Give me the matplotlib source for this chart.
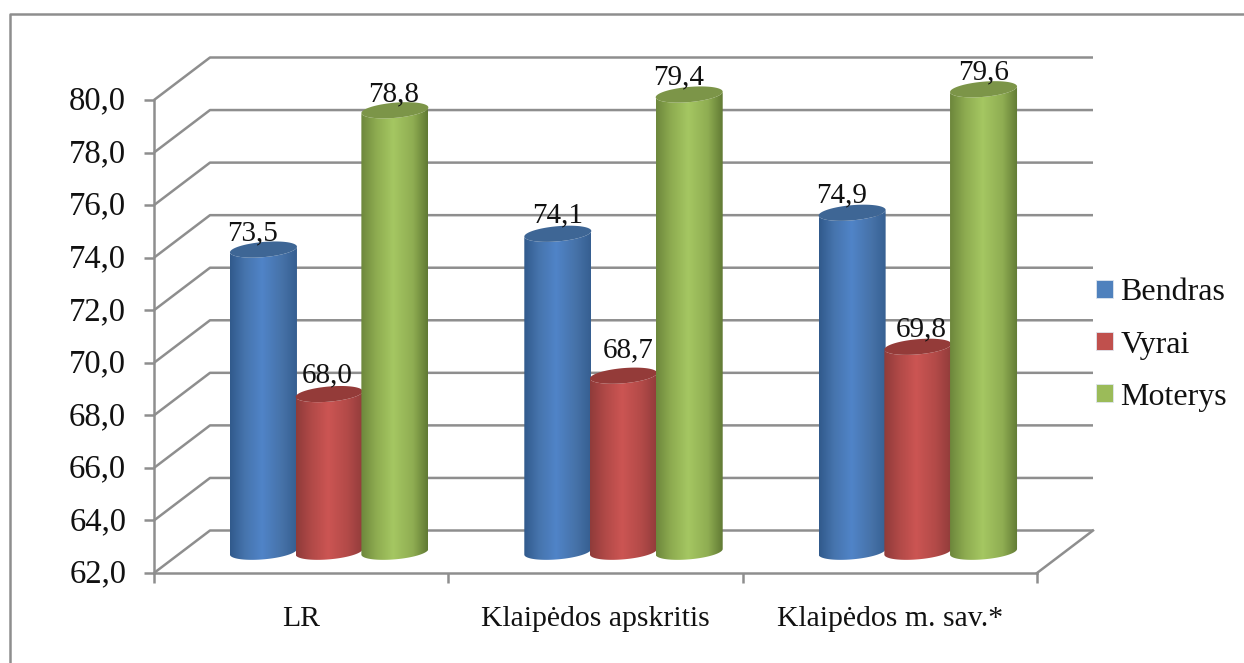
import numpy as np
import matplotlib
matplotlib.use("Agg")
import matplotlib.pyplot as plt
from matplotlib.colors import LinearSegmentedColormap
from matplotlib.lines import Line2D
from matplotlib.patches import Patch, PathPatch
from matplotlib.path import Path
from matplotlib.ticker import FuncFormatter
from matplotlib.transforms import ScaledTranslation

categories = ["LR", "Klaipėdos apskritis", "Klaipėdos m. sav.*"]
series_names = ["Bendras", "Vyrai", "Moterys"]
bendras = [73.5, 74.1, 74.9]
vyrai = [68.0, 68.7, 69.8]
moterys = [78.8, 79.4, 79.6]
y_ticks = [62, 64, 66, 68, 70, 72, 74, 76, 78, 80]

# label nudges in px, the original chart placed these by hand
label_nudge = [[-11, -2, -1], [0, 5, -11], [-11, 3, 0]]
label_lift = [[9, 12, 9], [11, 18, 10], [10, 10, 9.5]]

# side shading left to right, then cap and legend colour
shades = {
    "Bendras": ["#315a8c", "#4674ad", "#5084c8", "#4672a8", "#365f91", "#3e6695", "#4f81bd"],
    "Vyrai": ["#8f3b3a", "#b04947", "#cc5553", "#b24a48", "#923c3b", "#943b39", "#c0504d"],
    "Moterys": ["#6d873c", "#8dab50", "#a5c762", "#8fad52", "#617a34", "#7c9548", "#9bbb59"],
}

GREY = "#8e8e8e"
INK = "#111111"
FONT = "Liberation Serif"
FS_DATA = 21
FS_YTICK = 23.5
FS_CAT = 21.4
FS_LEGEND = 23

W, H = 1244, 663
fig = plt.figure(figsize=(W / 100, H / 100), dpi=100, facecolor="white")
ax = fig.add_axes([154 / W, (H - 573) / H, 883 / W, 473 / H])
ax.set_xlim(0, 3)
ax.set_ylim(62, 80)

px_x = 3 / 883
px_y = 18 / 473

# depth of the 3d box
DX = 56 * px_x
DY = 42.5 * px_y

for v in y_ticks:
    ax.plot([0, DX, 3 + DX], [v, v + DY, v + DY], color=GREY, lw=1.8,
            clip_on=False, zorder=1, solid_capstyle="butt")
ax.plot([3, 3 + DX], [62, 62 + DY], color=GREY, lw=1.8, clip_on=False, zorder=1)

bar_w = 67 * px_x
bar_step = 65.7 * px_x
cap_b = 7.6 * px_y
cap_s = 2.8 * px_y


def cap_points(cx, cy, t):
    return cx + bar_w / 2 * np.cos(t), cy + cap_b * np.sin(t) + cap_s * np.cos(t)


def cylinder(cx, value, name, z):
    cols = shades[name]
    base = 62 + DY / 2
    top = value + DY / 2
    stops = [0, 0.22, 0.48, 0.78, 1]
    cmap = LinearSegmentedColormap.from_list(name, list(zip(stops, cols[:5])))
    t = np.linspace(np.pi, 2 * np.pi, 60)
    bx, by = cap_points(cx, base, t)
    tx, ty = cap_points(cx, top, t[::-1])
    side = Path(np.column_stack([np.r_[bx, tx], np.r_[by, ty]]))
    clip = PathPatch(side, transform=ax.transData, fc="none", ec="none")
    ax.add_patch(clip)
    im = ax.imshow(np.linspace(0, 1, 128).reshape(1, -1), cmap=cmap, aspect="auto",
                   extent=[cx - bar_w / 2, cx + bar_w / 2, base - 1, top + 1], zorder=z)
    im.set_clip_box(fig.bbox)
    im.set_clip_path(clip)
    t = np.linspace(0, 2 * np.pi, 90)
    cap_x, cap_y = cap_points(cx, top, t)
    ax.fill(cap_x, cap_y, color=cols[5], zorder=z + 0.1, clip_on=False, lw=0)


for i, cat in enumerate(categories):
    for j, (name, vals) in enumerate(zip(series_names, [bendras, vyrai, moterys])):
        cx = i + 0.5 + DX / 2 + (j - 1) * bar_step
        cylinder(cx, vals[i], name, 3 + i + j * 0.3)
        ax.annotate(f"{vals[i]:.1f}".replace(".", ","), (cx, vals[i] + DY / 2),
                    xytext=(label_nudge[i][j] * 0.72, label_lift[i][j] * 0.72),
                    textcoords="offset points", ha="center", va="baseline",
                    fontsize=FS_DATA, family=FONT, color=INK, zorder=10,
                    annotation_clip=False)

ax.set_xlim(0, 3)
ax.set_ylim(62, 80)
ax.patch.set_alpha(0)

for side in ["top", "right"]:
    ax.spines[side].set_visible(False)
for side in ["left", "bottom"]:
    ax.spines[side].set_color(GREY)
    ax.spines[side].set_linewidth(1.8)

ax.set_yticks(y_ticks)
ax.yaxis.set_major_formatter(FuncFormatter(lambda v, p: f"{v:.1f}".replace(".", ",")))
ax.set_xticks([0, 1, 2, 3])
ax.set_xticklabels([])
ax.set_xticks([0.5, 1.5, 2.5], minor=True)
ax.set_xticklabels(categories, minor=True, fontsize=FS_CAT, family=FONT, color=INK)
ax.tick_params(axis="x", which="major", length=7, width=1.8, color=GREY)
ax.tick_params(axis="x", which="minor", length=0, pad=24)
ax.tick_params(axis="y", length=7, width=1.8, color=GREY, pad=13, labelsize=FS_YTICK, labelcolor=INK)
lift = ScaledTranslation(0, 1.5 / 72, fig.dpi_scale_trans)
for lab in ax.get_yticklabels():
    lab.set_family(FONT)
    lab.set_transform(lab.get_transform() + lift)

handles = [Patch(facecolor=shades[n][6], edgecolor="#dfe6ee", lw=0.6, label=n) for n in series_names]
fig.legend(handles=handles, loc="center left", bbox_to_anchor=(1096 / W, (H - 345) / H),
           frameon=False, borderpad=0, borderaxespad=0, handlelength=0.52, handleheight=0.52,
           handletextpad=0.24, labelspacing=0.72, prop={"family": FONT, "size": FS_LEGEND},
           labelcolor=INK)

# outer frame of the pasted chart, cut at right and bottom
fig.add_artist(Line2D([10 / W, 10 / W, 1], [(H - 662) / H, (H - 14) / H, (H - 14) / H],
                      color=GREY, lw=1.8, transform=fig.transFigure))

fig.savefig("out.png", dpi=100)
